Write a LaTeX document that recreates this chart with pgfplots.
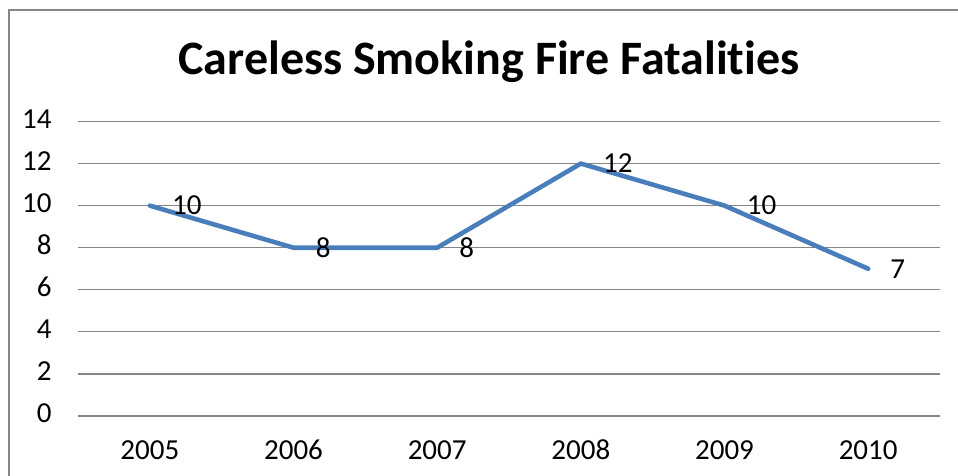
\documentclass[border=0pt]{standalone}
\usepackage{fontspec}
\setmainfont{Carlito}[Ligatures=NoCommon]
\usepackage{pgfplots}
\pgfplotsset{compat=1.18}
\definecolor{lineblue}{HTML}{4A7EBB}
\definecolor{gridgray}{HTML}{868686}

\begin{document}
\begin{tikzpicture}[x=1pt,y=1pt]
\clip (0,0) rectangle (479,238);
\draw[gridgray, line width=0.6pt] (4.5,-10) -- (4.5,233) -- (490,233);
\node[anchor=base, inner sep=0pt, font=\fontsize{24}{29}\selectfont\bfseries] at (244.5,200.5) {Careless Smoking Fire Fatalities};
\begin{axis}[
  at={(39pt,30pt)}, anchor=south west,
  width=431pt, height=147.25pt, scale only axis,
  xmin=-0.5, xmax=5.5, ymin=0, ymax=14,
  ytick={0,2,...,14},
  xtick={0,...,5},
  xticklabels={2005,2006,2007,2008,2009,2010},
  axis line style={draw=none},
  ymajorgrids,
  major grid style={gridgray, line width=0.6pt},
  major tick length=0pt,
  /pgf/number format/assume math mode=true,
  tick label style={font=\fontsize{14.5}{17}\selectfont, text=black},
  yticklabel style={anchor=base east, inner sep=0pt, xshift=-13pt, yshift=-3.3pt},
  xticklabel style={anchor=base, inner sep=0pt, yshift=-22pt},
  nodes near coords,
  nodes near coords style={anchor=west, inner sep=0pt, xshift=10pt,
    font=\fontsize{14.5}{17}\selectfont, text=black},
]
\addplot[lineblue, line width=2.3pt, line join=round, line cap=round, mark=none]
  coordinates {(0,10) (1,8) (2,8) (3,12) (4,10) (5,7)};
\end{axis}
\end{tikzpicture}
\end{document}
